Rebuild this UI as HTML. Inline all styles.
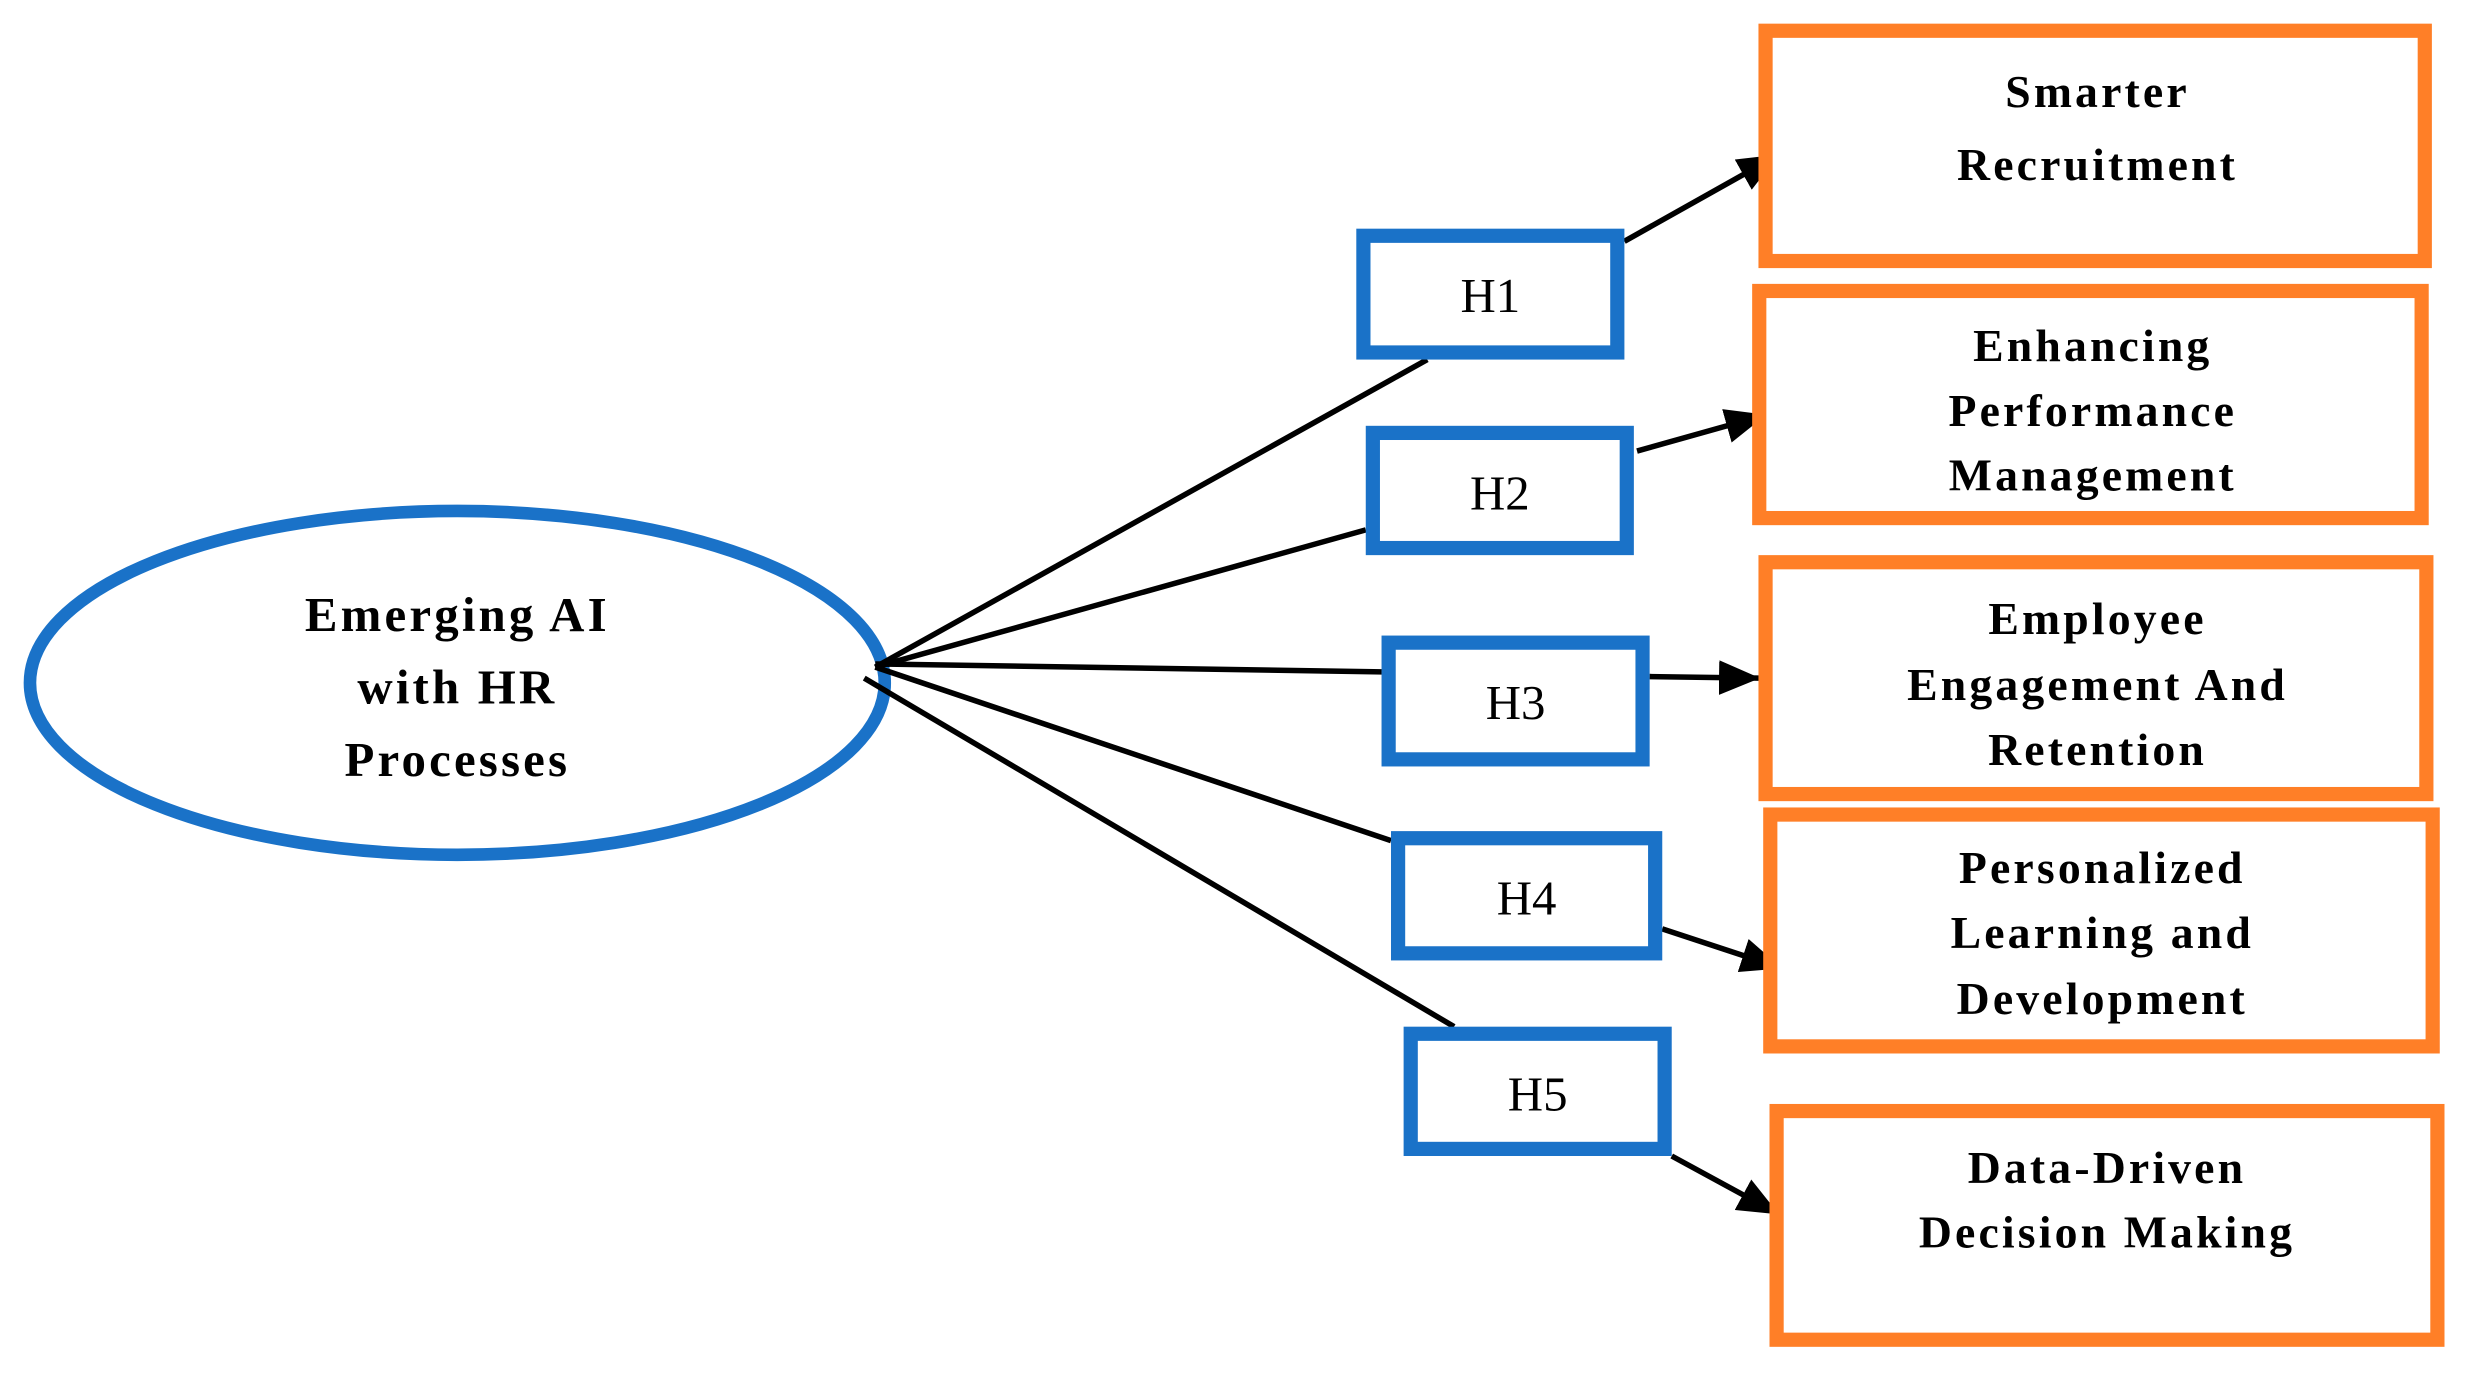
<!DOCTYPE html>
<html><head><style>html,body{margin:0;padding:0;background:#fff}svg{display:block}</style></head>
<body>
<svg width="2465" height="1379" viewBox="0 0 1563 874.4" preserveAspectRatio="none" xmlns="http://www.w3.org/2000/svg">
<defs><marker id="a" markerWidth="8" markerHeight="8" refX="7" refY="4" orient="auto" markerUnits="userSpaceOnUse" viewBox="0 0 8 8"><path d="M0,0 L8,4 L0,8z" fill="#000"/></marker>
<marker id="b" markerWidth="26" markerHeight="22" refX="26" refY="11" orient="auto" markerUnits="userSpaceOnUse"><path d="M0,0 L26,11 L0,22z" fill="#000"/></marker></defs>
<ellipse cx="290" cy="433" rx="271" ry="109" fill="#fff" stroke="#1a72c8" stroke-width="8"/>
<g font-family="Liberation Serif, serif" font-weight="bold" font-size="31" letter-spacing="2" text-anchor="middle" fill="#000">
<text x="290" y="400">Emerging AI</text><text x="290" y="446">with HR</text><text x="290" y="492">Processes</text>
</g>
<g stroke="#000" stroke-width="3.5" fill="none">
<line x1="555" y1="423" x2="905" y2="228"/>
<line x1="555" y1="423" x2="866" y2="336"/>
<line x1="555" y1="421" x2="876" y2="426"/>
<line x1="555" y1="423" x2="882" y2="533"/>
<line x1="548" y1="430" x2="922" y2="651"/>
<line x1="1030" y1="153" x2="1128" y2="98" marker-end="url(#b)"/>
<line x1="1038" y1="286" x2="1120" y2="263" marker-end="url(#b)"/>
<line x1="1046" y1="429" x2="1116" y2="430" marker-end="url(#b)"/>
<line x1="1054" y1="589" x2="1130" y2="614" marker-end="url(#b)"/>
<line x1="1060" y1="733" x2="1128" y2="770" marker-end="url(#b)"/>
</g>
<g fill="#fff" stroke="#1a72c8" stroke-width="9">
<rect x="864.5" y="149.5" width="161" height="74"/>
<rect x="870.5" y="274.5" width="161" height="73"/>
<rect x="880.5" y="407.5" width="161" height="74"/>
<rect x="886.5" y="531.5" width="163" height="73"/>
<rect x="894.5" y="655.5" width="161" height="73"/>
</g>
<g font-family="Liberation Serif, serif" font-size="31" text-anchor="middle" fill="#000">
<text x="945" y="198">H1</text><text x="951" y="323">H2</text><text x="961" y="456">H3</text><text x="968" y="580">H4</text><text x="975" y="704">H5</text>
</g>
<g fill="#fff" stroke="#ff7f27" stroke-width="9">
<rect x="1119.5" y="19.5" width="418" height="146"/>
<rect x="1115.5" y="184.5" width="420" height="144"/>
<rect x="1119.5" y="356.5" width="419" height="147"/>
<rect x="1122.5" y="516.5" width="420" height="147"/>
<rect x="1126.5" y="704.5" width="419" height="145"/>
</g>
<g font-family="Liberation Serif, serif" font-weight="bold" font-size="29" letter-spacing="2" text-anchor="middle" fill="#000">
<text x="1330" y="68">Smarter</text><text x="1330" y="114">Recruitment</text>
<text x="1327" y="229">Enhancing</text><text x="1327" y="270">Performance</text><text x="1327" y="311">Management</text>
<text x="1330" y="402">Employee</text><text x="1330" y="444">Engagement And</text><text x="1330" y="485">Retention</text>
<text x="1333" y="560">Personalized</text><text x="1333" y="601">Learning and</text><text x="1333" y="643">Development</text>
<text x="1336" y="750">Data-Driven</text><text x="1336" y="791">Decision Making</text>
</g>
</svg>
</body></html>
